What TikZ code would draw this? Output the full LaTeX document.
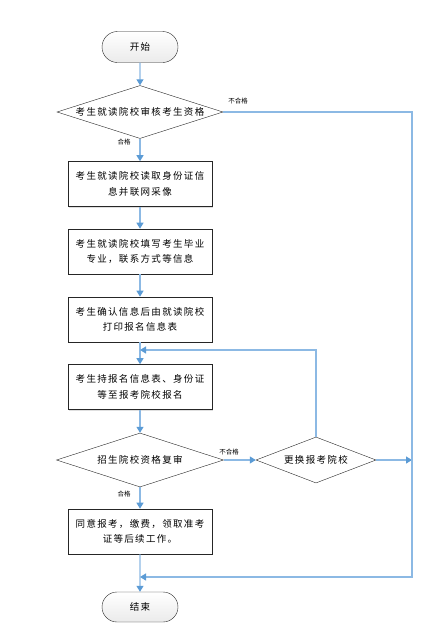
\documentclass[tikz,border=0pt]{standalone}
\usepackage{fontspec}
\newfontfamily\cjk[LetterSpace=14]{Noto Sans CJK SC}
\newfontfamily\cjkSmall{Noto Sans CJK SC}
\usetikzlibrary{shapes.geometric,shapes.misc,arrows.meta,shadows,positioning}
\definecolor{flowBlue}{RGB}{140,185,228}
\definecolor{tipBlue}{RGB}{91,155,213}
\tikzset{
myTerm/.style={
	rounded rectangle, draw=black!85, thin,
	top color=white, bottom color=black!8,
	minimum width=76pt, minimum height=31pt,
	inner sep=0pt, font=\cjk\fontsize{9.5}{11}\selectfont
}
, myBox/.style={
	rectangle, draw=black!85, semithick, fill=white,
	drop shadow={shadow xshift=1.2pt, shadow yshift=-1.2pt, opacity=0.25},
	minimum width=144pt, minimum height=45pt,
	inner sep=0pt, align=center,
	font=\cjk\fontsize{9.5}{15.5}\selectfont
}
, myDecide/.style={
	diamond, draw=black!85, thin, fill=white,
	inner sep=0pt, aspect=3.1,
	font=\cjk\fontsize{9.5}{11}\selectfont
}
% link
, myLink/.style={-{Triangle[length=6pt,width=7pt,color=tipBlue]},color=flowBlue,line width=1.2pt}
, myLabel/.style={font=\cjkSmall\fontsize{6.5}{8}\selectfont, inner sep=1pt}
}
\begin{document}
\begin{tikzpicture}[x=1pt,y=1pt]
	\useasboundingbox (0,0) rectangle (443,-640);
	% nodes
	\node[myTerm] (Start) at (140,-47) {开始};
	\node[myDecide, minimum width=166pt, minimum height=53pt] (CheckA) at (140,-112) {考生就读院校审核考生资格};
	\node[myBox] (ReadId) at (140,-184) {考生就读院校读取身份证信\\息并联网采像};
	\node[myBox] (FillIn) at (140,-251.5) {考生就读院校填写考生毕业\\专业，联系方式等信息};
	\node[myBox] (Print) at (140,-319.5) {考生确认信息后由就读院校\\打印报名信息表};
	\node[myBox] (Apply) at (140,-387) {考生持报名信息表、身份证\\等至报考院校报名};
	\node[myDecide, minimum width=167pt, minimum height=54pt] (CheckB) at (140,-460) {招生院校资格复审};
	\node[myDecide, minimum width=120pt, minimum height=46pt, aspect=2.6] (Change) at (316,-460) {更换报考院校};
	\node[myBox] (Accept) at (140,-531.5) {同意报考，缴费，领取准考\\证等后续工作。};
	\node[myTerm, minimum height=30pt] (Stop) at (140,-607) {结束};
	% corners
	\coordinate (RightTop) at (412,-112);
	\coordinate (RightMid) at (412,-460);
	\coordinate (JoinEnd) at (140,-577);
	\coordinate (JoinApply) at (140,-350);

	% links
	\draw [myLink] (Start) -- (CheckA);
	\draw [myLink] (CheckA) -- (ReadId);
	\draw [myLink] (ReadId) -- (FillIn);
	\draw [myLink] (FillIn) -- (Print);
	\draw [myLink] (Print) -- (Apply);
	\draw [myLink] (Apply) -- (CheckB);
	\draw [myLink] (CheckB) -- (Accept);
	\draw [myLink] (Accept) -- (Stop);
	\draw [myLink] (CheckB.east) -- (Change.west);
	\draw [myLink] (Change.east) -- (RightMid);
	\draw [myLink] (Change.north) |- (JoinApply);
	\draw [myLink] (CheckA.east) -- (RightTop) |- (JoinEnd);

	% labels
	\node[myLabel] (PassA) at (124,-142) {合格};
	\node[myLabel] (FailA) at (238,-101) {不合格};
	\node[myLabel] (PassB) at (124,-494) {合格};
	\node[myLabel] (FailB) at (229,-452) {不合格};
\end{tikzpicture}
\end{document}
